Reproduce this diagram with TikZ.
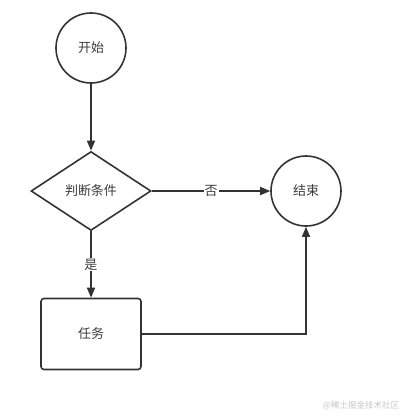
\documentclass[tikz,border=0pt]{standalone}
\usepackage{fontspec}
\newfontfamily\cjk{Noto Sans CJK SC}
\usetikzlibrary{shapes.geometric,arrows.meta}
\definecolor{linec}{HTML}{333333}
\definecolor{textc}{HTML}{3C3C3C}
\begin{document}
\begin{tikzpicture}[x=1pt, y=-1pt, >={Triangle[length=10pt,width=8pt]},
    every node/.style={font=\cjk\fontsize{13}{15}\selectfont, text=textc},
    terminal/.style={draw=linec, line width=1.6pt, circle, minimum size=70pt, inner sep=0pt},
    decision/.style={draw=linec, line width=1.6pt, diamond, minimum width=120pt, minimum height=79pt, inner sep=0pt},
    process/.style={draw=linec, line width=1.6pt, rectangle, rounded corners=3pt, minimum width=100pt, minimum height=71pt},
    flow/.style={draw=linec, line width=1.6pt, ->},
    thinflow/.style={draw=linec, line width=1.2pt, ->},
    edgelabel/.style={fill=white, inner sep=1pt}]
    \useasboundingbox (0,0) rectangle (402,416);
    \node[terminal] (start) at (91,48) {开始};
    \node[decision] (cond) at (91,191) {判断条件};
    \node[terminal] (stop) at (306,191) {结束};
    \node[process] (task) at (91,334) {任务};
    \draw[flow] (start) -- (cond);
    \draw[flow] (cond) -- (stop) node[midway, edgelabel] {否};
    \draw[flow] (cond) -- (task) node[midway, edgelabel] {是};
    \draw[thinflow] (task.east) -| (stop.south);
    % watermark
    \node[font=\cjk\fontsize{8.5}{10}\selectfont, text=gray!45] (mark) at (361,406) {@稀土掘金技术社区};
\end{tikzpicture}
\end{document}
